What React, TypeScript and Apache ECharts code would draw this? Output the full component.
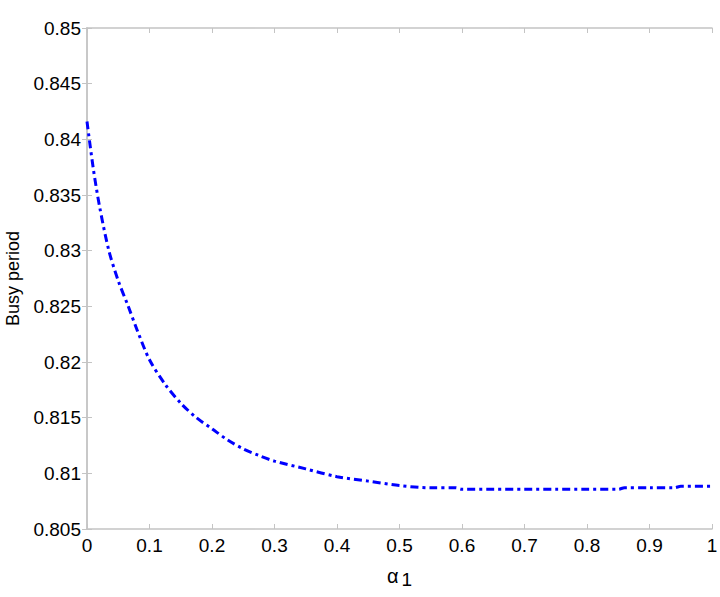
import React, { useEffect, useRef } from "react";
import * as echarts from "echarts";

const alphaValues = [0, 0.01, 0.02, 0.035, 0.05, 0.066, 0.08, 0.1, 0.125, 0.15, 0.175, 0.2, 0.225, 0.25, 0.275, 0.3, 0.35, 0.4, 0.45, 0.5, 0.55, 0.59, 0.6, 0.65, 0.7, 0.75, 0.8, 0.85, 0.86, 0.9, 0.94, 0.95, 1];
const busyPeriod = [0.8416, 0.8374, 0.8340, 0.8300, 0.8273, 0.8250, 0.8229, 0.8202, 0.8180, 0.8163, 0.8150, 0.8140, 0.8130, 0.8122, 0.8116, 0.8111, 0.8104, 0.8097, 0.8093, 0.8089, 0.8087, 0.8087, 0.80857, 0.80857, 0.80857, 0.80857, 0.80857, 0.80857, 0.80871, 0.80871, 0.80871, 0.80884, 0.80884];

const xTicks = { min: 0, max: 1, interval: 0.1 };
const yTicks = { min: 0.805, max: 0.85, interval: 0.005 };

export default function App() {
  const ref = useRef<HTMLDivElement>(null);
  useEffect(() => {
    if (!ref.current) return;
    const chart = echarts.init(ref.current, null, { renderer: "svg" });
    const axisLine = { show: true, lineStyle: { color: "#c4c4c4", width: 1.5 } };
    const axisTick = { show: true, inside: true, length: 5, lineStyle: { color: "#c4c4c4", width: 1 } };
    const font = "Liberation Sans, Arial, sans-serif";
    chart.setOption({
      animation: false,
      backgroundColor: "#ffffff",
      grid: { left: 87, right: 8, top: 28, bottom: 68, containLabel: false, outerBoundsMode: "none" },
      xAxis: [
        {
          type: "value",
          min: xTicks.min,
          max: xTicks.max,
          interval: xTicks.interval,
          position: "bottom",
          axisLine,
          axisTick,
          splitLine: { show: false },
          axisLabel: {
            color: "#000",
            fontSize: 19,
            fontFamily: font,
            margin: 7,
            formatter: (v: number) => String(Math.round(v * 10) / 10),
          },
          name: "{a|α}{s|1}",
          nameLocation: "middle",
          nameGap: 33,
          nameTextStyle: {
            rich: {
              a: { fontSize: 20, fontFamily: font, color: "#000", padding: [0, 3, 0, 0] },
              s: { fontSize: 19, fontFamily: font, color: "#000", verticalAlign: "bottom", padding: [8, 0, 0, 0] },
            },
          },
        },
        {
          type: "value",
          min: xTicks.min,
          max: xTicks.max,
          interval: xTicks.interval,
          position: "top",
          axisLine,
          axisTick,
          splitLine: { show: false },
          axisLabel: { show: false },
        },
      ],
      yAxis: [
        {
          type: "value",
          min: yTicks.min,
          max: yTicks.max,
          interval: yTicks.interval,
          position: "left",
          axisLine,
          axisTick,
          splitLine: { show: false },
          axisLabel: {
            color: "#000",
            fontSize: 19,
            fontFamily: font,
            margin: 6,
            formatter: (v: number) => String(Math.round(v * 1000) / 1000),
          },
          name: "Busy period",
          nameLocation: "middle",
          nameGap: 65,
          nameTextStyle: { color: "#000", fontSize: 18, fontFamily: font },
        },
        {
          type: "value",
          min: yTicks.min,
          max: yTicks.max,
          interval: yTicks.interval,
          position: "right",
          axisLine,
          axisTick,
          splitLine: { show: false },
          axisLabel: { show: false },
        },
      ],
      series: [
        {
          type: "line",
          xAxisIndex: 0,
          yAxisIndex: 0,
          data: alphaValues.map((a, i) => [a, busyPeriod[i]]),
          showSymbol: false,
          smooth: 0.3,
          lineStyle: { color: "#0000ff", width: 3, type: [8, 4, 3, 4] },
        },
      ],
    });
    return () => chart.dispose();
  }, []);
  return <div ref={ref} style={{ position: "fixed", left: 0, top: 0, width: 720, height: 597 }} />;
}
